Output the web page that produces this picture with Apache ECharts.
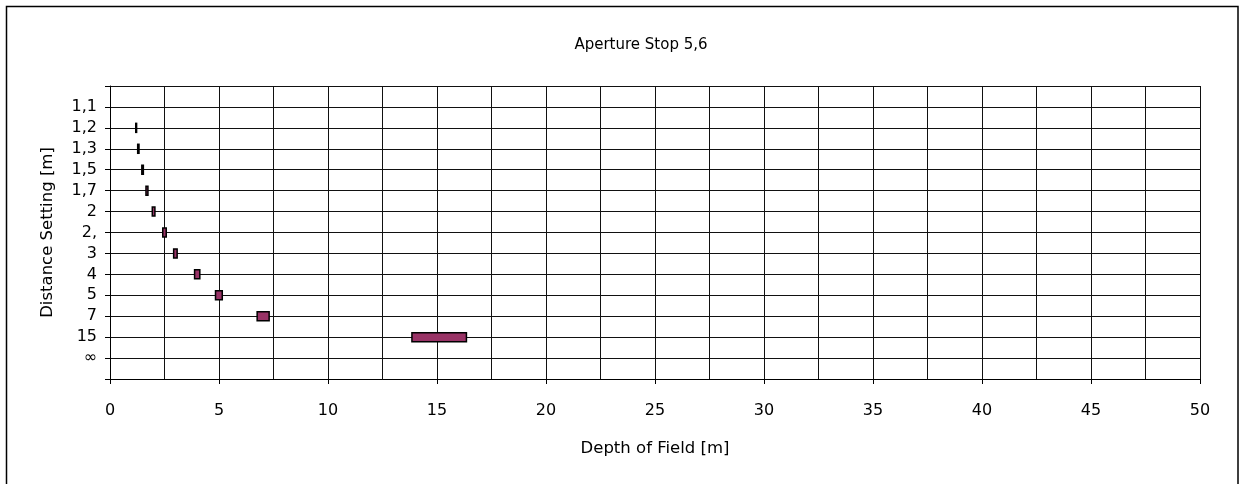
<!DOCTYPE html>
<html>
<head>
<meta charset="utf-8">
<script src="https://cdn.jsdelivr.net/npm/echarts@6/dist/echarts.min.js"></script>
<style>
html,body{margin:0;padding:0;background:#fff;}
#c{width:1244px;height:484px;}
</style>
</head>
<body>
<div id="c"></div>
<script>
// Distance settings (bottom to top on the axis; blank slots at axis ends)
const distanceLabels = ['', '∞', '15', '7', '5', '4', '3', '2,', '2', '1,7', '1,5', '1,3', '1,2', '1,1', ''];
// Depth of field: near and far limits [m] for each distance setting
const rowLabels = ['1,2', '1,3', '1,5', '1,7', '2', '2,', '3', '4', '5', '7', '15'];
const nearLimits = [1.18, 1.27, 1.46, 1.65, 1.94, 2.42, 2.92, 3.88, 4.84, 6.75, 13.85];
const farLimits  = [1.22, 1.33, 1.53, 1.74, 2.06, 2.58, 3.08, 4.12, 5.15, 7.30, 16.35];
const xTicks = { min: 0, max: 50, interval: 5 };

const data = rowLabels.map((lab, i) => [distanceLabels.indexOf(lab), nearLimits[i], farLimits[i]]);

const FONT = 'DejaVu Sans';
const chart = echarts.init(document.getElementById('c'));
chart.setOption({
  animation: false,
  backgroundColor: '#fff',
  title: {
    text: 'Aperture Stop 5,6',
    left: 636, top: 33, textAlign: 'center',
    textStyle: { fontFamily: FONT, fontSize: 15, fontWeight: 'normal', color: '#000' }
  },
  graphic: [{
    type: 'rect', silent: true,
    shape: { x: 6.5, y: 6.5, width: 1231.5, height: 500 },
    style: { fill: 'none', stroke: '#000', lineWidth: 1.5 }
  }],
  grid: { left: 110, right: 44, top: 86, bottom: 105 },
  xAxis: {
    type: 'value',
    min: xTicks.min, max: xTicks.max, interval: xTicks.interval,
    name: 'Depth of Field [m]',
    nameLocation: 'middle', nameGap: 61,
    nameTextStyle: { fontFamily: FONT, fontSize: 16.5, color: '#000' },
    axisLine: { show: true, lineStyle: { color: '#000', width: 1 } },
    axisTick: { show: true, length: 5, lineStyle: { color: '#000' } },
    axisLabel: { fontFamily: FONT, fontSize: 16, color: '#000', margin: 24 },
    splitLine: { show: true, lineStyle: { color: '#111', width: 1 } },
    minorTick: { show: false, splitNumber: 2 },
    minorSplitLine: { show: true, lineStyle: { color: '#111', width: 1 } }
  },
  yAxis: {
    type: 'category',
    data: distanceLabels,
    boundaryGap: false,
    name: 'Distance Setting [m]',
    nameLocation: 'middle', nameGap: 54, nameRotate: 90,
    nameTextStyle: { fontFamily: FONT, fontSize: 16.5, color: '#000' },
    axisLine: { show: true, lineStyle: { color: '#000', width: 1 } },
    axisTick: { show: true, length: 5, interval: 0, lineStyle: { color: '#000' } },
    axisLabel: { fontFamily: FONT, fontSize: 16, color: '#000', margin: 13, interval: 0 },
    splitLine: { show: true, interval: 0, lineStyle: { color: '#111', width: 1 } }
  },
  series: [{
    type: 'custom',
    data: data,
    encode: { x: [1, 2], y: 0 },
    renderItem: function (params, api) {
      const cat = api.value(0);
      const p0 = api.coord([api.value(1), cat]);
      const p1 = api.coord([api.value(2), cat]);
      const h = 9;
      return {
        type: 'rect',
        shape: { x: p0[0], y: p0[1] - h / 2, width: Math.max(p1[0] - p0[0], 0.5), height: h },
        style: { fill: '#993366', stroke: '#000', lineWidth: 1.5 }
      };
    }
  }]
});
</script>
</body>
</html>
